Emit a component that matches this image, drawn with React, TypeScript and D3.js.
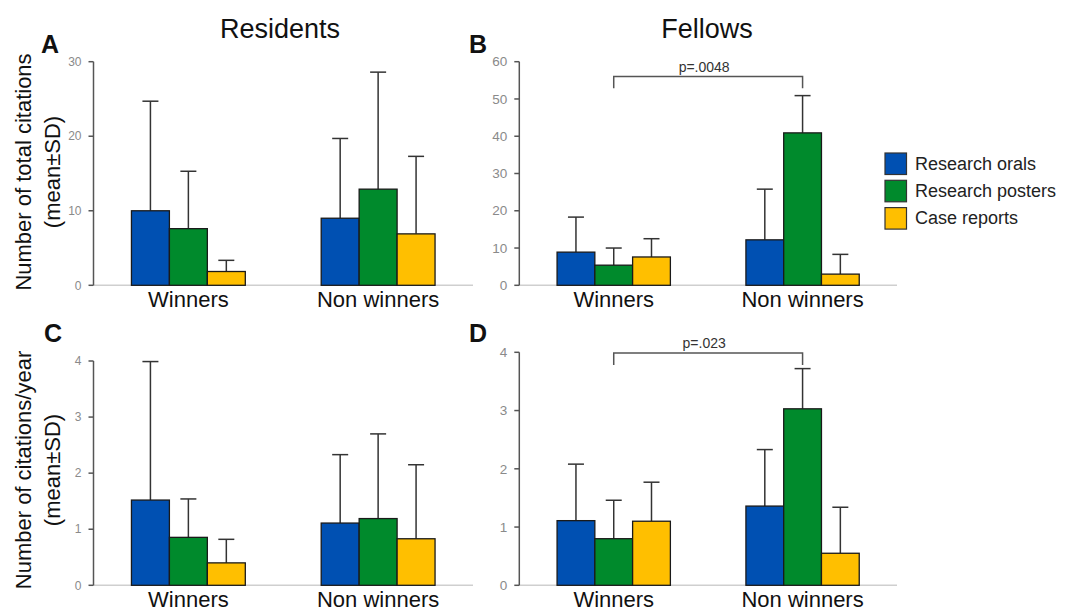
import React from "react";
import * as d3 from "d3";

// categories
const groups = ["Winners", "Non winners"];
const series = ["Research orals", "Research posters", "Case reports"];
const colors = ["#0050b2", "#008a2c", "#ffbf00"];

// means and SDs, rows = groups, cols = series
const residentsTotalMean = [[10.0, 7.6, 1.85], [9.0, 12.9, 6.9]];
const residentsTotalSD = [[14.7, 7.7, 1.5], [10.7, 15.7, 10.4]];
const fellowsTotalMean = [[8.9, 5.4, 7.6], [12.2, 40.9, 3.0]];
const fellowsTotalSD = [[9.4, 4.6, 4.9], [13.6, 10.0, 5.3]];
const residentsYearMean = [[1.52, 0.855, 0.4], [1.11, 1.19, 0.83]];
const residentsYearSD = [[2.47, 0.685, 0.42], [1.22, 1.51, 1.32]];
const fellowsYearMean = [[1.11, 0.8, 1.1], [1.36, 3.03, 0.55]];
const fellowsYearSD = [[0.97, 0.66, 0.67], [0.97, 0.69, 0.79]];

// tick values
const totalResTicks = [0, 10, 20, 30];
const totalFelTicks = [0, 10, 20, 30, 40, 50, 60];
const yearTicks = [0, 1, 2, 3, 4];

const FONT = "'Liberation Sans', Arial, sans-serif";

type PanelProps = {
  mean: number[][];
  sd: number[][];
  ticks: number[];
  x0: number;
  x1: number;
  y0: number;
  y1: number;
  tickSize: number;
  bracket?: { label: string; top: number; bottom: number };
};

const Panel = ({ mean, sd, ticks, x0, x1, y0, y1, tickSize, bracket }: PanelProps) => {
  const max = d3.max(ticks) as number;
  const y = d3.scaleLinear().domain([0, max]).range([y0, y1]);
  const gx = d3.scaleBand().domain(groups).range([x0, x1]);
  const sx = d3
    .scaleBand()
    .domain(series)
    .range([0, gx.bandwidth()])
    .paddingOuter(1);
  const bw = sx.bandwidth();
  const center = (g: string) => (gx(g) as number) + gx.bandwidth() / 2;

  return (
    <g>
      {/* baseline */}
      <line x1={x0} x2={x1} y1={y0} y2={y0} stroke="#cfcfcf" strokeWidth={1.5} />
      {/* y axis */}
      <line x1={x0} x2={x0} y1={y1} y2={y0} stroke="#555" strokeWidth={1.5} />
      {ticks.map((t) => (
        <g key={t}>
          <line x1={x0 - 5} x2={x0} y1={y(t)} y2={y(t)} stroke="#555" strokeWidth={1.5} />
          <text
            x={x0 - 12}
            y={y(t)}
            dy="0.35em"
            textAnchor="end"
            fontSize={tickSize}
            fill="#8a8a8a"
            fontFamily={FONT}
          >
            {t}
          </text>
        </g>
      ))}
      {groups.map((g, gi) =>
        series.map((s, si) => {
          const bx = (gx(g) as number) + (sx(s) as number);
          const cx = bx + bw / 2;
          const top = y(mean[gi][si]);
          const err = y(mean[gi][si] + sd[gi][si]);
          return (
            <g key={g + s}>
              <line x1={cx} x2={cx} y1={top} y2={err} stroke="#333" strokeWidth={1.5} />
              <line x1={cx - 8} x2={cx + 8} y1={err} y2={err} stroke="#333" strokeWidth={1.5} />
              <rect
                x={bx}
                y={top}
                width={bw}
                height={y0 - top}
                fill={colors[si]}
                stroke="#1a1a1a"
                strokeWidth={1.3}
              />
            </g>
          );
        })
      )}
      {groups.map((g) => (
        <text
          key={g}
          x={center(g)}
          y={y0 + 22}
          textAnchor="middle"
          fontSize={22}
          fill="#111"
          fontFamily={FONT}
        >
          {g}
        </text>
      ))}
      {bracket && (
        <g>
          <path
            d={`M${center(groups[0])},${y(bracket.bottom)}V${y(bracket.top)}H${center(groups[1])}V${y(bracket.bottom)}`}
            fill="none"
            stroke="#555"
            strokeWidth={1.5}
          />
          <text
            x={(center(groups[0]) + center(groups[1])) / 2 - 4}
            y={y(bracket.top) - 5}
            textAnchor="middle"
            fontSize={14}
            fill="#333"
            fontFamily={FONT}
          >
            {bracket.label}
          </text>
        </g>
      )}
    </g>
  );
};

const YLabel = ({ lines, cy }: { lines: string[]; cy: number }) => (
  <g>
    {lines.map((l, i) => (
      <text
        key={l}
        transform={`translate(${31 + i * 29},${cy}) rotate(-90)`}
        textAnchor="middle"
        fontSize={22}
        fill="#111"
        fontFamily={FONT}
      >
        {l}
      </text>
    ))}
  </g>
);

export default function App() {
  return (
    <svg width={1066} height={611} style={{ position: "absolute", left: 0, top: 0, background: "#fff" }}>
      <text x={280} y={38} textAnchor="middle" fontSize={27} fill="#111" fontFamily={FONT}>
        Residents
      </text>
      <text x={707} y={38} textAnchor="middle" fontSize={27} fill="#111" fontFamily={FONT}>
        Fellows
      </text>
      {[
        ["A", 41, 53],
        ["B", 469, 53],
        ["C", 44, 342],
        ["D", 469, 342],
      ].map(([l, x, yy]) => (
        <text key={l as string} x={x as number} y={yy as number} fontSize={25} fontWeight="bold" fill="#111" fontFamily={FONT}>
          {l}
        </text>
      ))}
      <YLabel lines={["Number of total citations", "(mean±SD)"]} cy={172} />
      <YLabel lines={["Number of citations/year", "(mean±SD)"]} cy={470} />

      <Panel mean={residentsTotalMean} sd={residentsTotalSD} ticks={totalResTicks} x0={93.5} x1={473} y0={285.3} y1={61.7} tickSize={12} />
      <Panel
        mean={fellowsTotalMean}
        sd={fellowsTotalSD}
        ticks={totalFelTicks}
        x0={519.3}
        x1={897}
        y0={285.3}
        y1={61.7}
        tickSize={13.5}
        bracket={{ label: "p=.0048", top: 56, bottom: 52.9 }}
      />
      <Panel mean={residentsYearMean} sd={residentsYearSD} ticks={yearTicks} x0={93.5} x1={473} y0={585.3} y1={361} tickSize={12} />
      <Panel
        mean={fellowsYearMean}
        sd={fellowsYearSD}
        ticks={yearTicks}
        x0={519.3}
        x1={897}
        y0={585.3}
        y1={352.3}
        tickSize={13.5}
        bracket={{ label: "p=.023", top: 3.99, bottom: 3.78 }}
      />

      {/* legend */}
      {series.map((s, i) => (
        <g key={s}>
          <rect x={885} y={153 + i * 27.3} width={21.5} height={21.5} fill={colors[i]} stroke="#333" strokeWidth={1.2} />
          <text x={915} y={169.5 + i * 27.3} fontSize={18} fill="#222" fontFamily={FONT}>
            {s}
          </text>
        </g>
      ))}
    </svg>
  );
}
